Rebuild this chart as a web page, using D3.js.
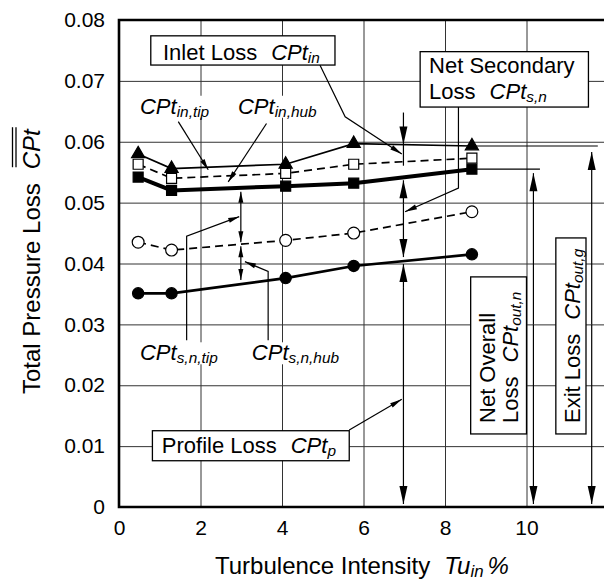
<!DOCTYPE html>
<html>
<head>
<meta charset="utf-8">
<script src="https://cdn.jsdelivr.net/npm/d3@7"></script>
<style>
body { margin: 0; background: #fff; }
svg { display: block; font-family: "Liberation Sans", Arial, sans-serif; }
</style>
</head>
<body>
<script>
// turbulence intensity of each test case, %
var tu = [0.47, 1.29, 4.09, 5.76, 8.66];
// loss series
var cptInTip = [0.0580, 0.0556, 0.0563, 0.0597, 0.0593];   // filled triangles, thin line
var cptInHub = [0.0563, 0.0540, 0.0548, 0.0563, 0.0573];   // open squares, dashed
var cptIn = [0.0542, 0.0520, 0.0527, 0.0532, 0.0555];      // filled squares, thick line
var cptHubSec = [0.0435, 0.0422, 0.0438, 0.0450, 0.0485];  // open circles, dashed
var cptP = [0.0351, 0.0351, 0.0376, 0.0396, 0.0415];       // filled circles
var xTicks = [0, 2, 4, 6, 8, 10];
var yTicks = [0, 0.01, 0.02, 0.03, 0.04, 0.05, 0.06, 0.07, 0.08];

var margin = { top: 20, left: 119 };
var width = 489;
var height = 487;
var tickFont = 21, annFont = 22, titleFont = 24;

var svg = d3.select('body')
    .append('svg')
    .attr('width', 604)
    .attr('height', 580);

var x = d3.scaleLinear().domain([0, 12]).range([0, width]);
var y = d3.scaleLinear().domain([0, 0.08]).range([height, 0]);

var chart = svg.append('g')
    .attr('transform', 'translate(' + margin.left + ',' + margin.top + ')');

// gridlines
chart.append('g')
    .attr('transform', 'translate(0,' + height + ')')
    .call(d3.axisBottom(x).tickValues([2, 4, 6, 8, 10]).tickSize(-height).tickFormat(''))
    .call(g => g.select('.domain').remove())
    .selectAll('line').attr('stroke', '#333').attr('stroke-width', 1);
chart.append('g')
    .call(d3.axisLeft(y).tickValues(yTicks.slice(1, -1)).tickSize(-width).tickFormat(''))
    .call(g => g.select('.domain').remove())
    .selectAll('line').attr('stroke', '#333').attr('stroke-width', 1);

// tick labels
chart.append('g')
    .attr('transform', 'translate(0,' + height + ')')
    .call(d3.axisBottom(x).tickValues(xTicks).tickSize(0).tickPadding(13).tickFormat(d3.format('d')))
    .call(g => g.select('.domain').remove())
    .selectAll('text').attr('font-size', tickFont).attr('font-family', 'Liberation Sans, Arial').attr('fill', '#000');
chart.append('g')
    .call(d3.axisLeft(y).tickValues(yTicks).tickSize(0).tickPadding(14)
        .tickFormat(d => d === 0 ? '0' : d.toFixed(2)))
    .call(g => g.select('.domain').remove())
    .selectAll('text').attr('font-size', tickFont).attr('font-family', 'Liberation Sans, Arial').attr('fill', '#000');

// series
var pts = s => tu.map((t, i) => [t, s[i]]);
var line = d3.line().x(d => x(d[0])).y(d => y(d[1]));
var at = (s, t) => d3.scaleLinear().domain(tu).range(s)(t);

var series = [
    { v: cptP, w: 2.6, dash: null, sym: d3.symbolCircle, size: 100, fill: '#000' },
    { v: cptHubSec, w: 1.7, dash: '8,5', sym: d3.symbolCircle, size: 110, fill: '#fff' },
    { v: cptIn, w: 4, dash: null, sym: d3.symbolSquare, size: 100, fill: '#000' },
    { v: cptInHub, w: 1.7, dash: '8,5', sym: d3.symbolSquare, size: 100, fill: '#fff' },
    { v: cptInTip, w: 1.7, dash: null, sym: d3.symbolTriangle, size: 75, fill: '#000' }
];
series.forEach(function (s) {
    chart.append('path')
        .attr('d', line(pts(s.v)))
        .attr('fill', 'none')
        .attr('stroke', '#000')
        .attr('stroke-width', s.w)
        .attr('stroke-dasharray', s.dash);
});
series.forEach(function (s) {
    chart.selectAll(null)
        .data(pts(s.v))
        .enter()
        .append('path')
        .attr('transform', d => 'translate(' + x(d[0]) + ',' + y(d[1]) + ')')
        .attr('d', d3.symbol().type(s.sym).size(s.size))
        .attr('fill', s.fill)
        .attr('stroke', '#000')
        .attr('stroke-width', 1.2);
});

// annotation helpers
var ann = chart.append('g');
function head(x2, y2, ang, len, wid) {
    var bx = x2 - len * Math.cos(ang), by = y2 - len * Math.sin(ang);
    var px = -Math.sin(ang) * wid / 2, py = Math.cos(ang) * wid / 2;
    ann.append('path')
        .attr('d', 'M' + x2 + ',' + y2 + 'L' + (bx + px) + ',' + (by + py) + 'L' + (bx - px) + ',' + (by - py) + 'Z')
        .attr('fill', '#000');
}
function seg(p) {
    ann.append('path').attr('d', d3.line()(p))
        .attr('fill', 'none').attr('stroke', '#000').attr('stroke-width', 1.2);
}
function arrow(p, len, wid) {
    seg(p);
    var a = p[p.length - 2], b = p[p.length - 1];
    head(b[0], b[1], Math.atan2(b[1] - a[1], b[0] - a[0]), len, wid);
}
var px = d => [x(d[0]), y(d[1])];

// reference lines from the last points
seg([px([tu[4], cptIn[4]]), px([10.33, cptIn[4]])]);
seg([px([tu[4], cptInTip[4]]), px([11.75, cptInTip[4]])]);

// dimension arrows at Tu = 7
var xd = x(6.98);
var yTri = y(at(cptInTip, 6.98)), yHub = y(at(cptInHub, 6.98)), ySq = y(at(cptIn, 6.98)), yPr = y(at(cptP, 6.98));
arrow([[xd, y(0.0648)], [xd, yTri]], 18, 8);
seg([[xd, yTri], [xd, yHub + 4]]);
arrow([[xd, ySq + 26], [xd, ySq + 3]], 18, 8);
arrow([[xd, ySq + 26], [xd, yPr - 4]], 18, 8);
arrow([[xd, yPr + 26], [xd, yPr + 3]], 18, 8);
arrow([[xd, yPr + 26], [xd, y(0) - 3]], 18, 8);

// small dimension arrows at Tu = 3
var x3 = x(2.99);
var yS3 = y(at(cptIn, 2.99)), yH3 = y(at(cptHubSec, 2.99)), yP3 = y(at(cptP, 2.99));
var m1 = (yS3 + yH3) / 2, m2 = (yH3 + yP3) / 2;
arrow([[x3, m1], [x3, yS3 + 4]], 11, 5);
arrow([[x3, m1], [x3, yH3 - 2]], 11, 5);
arrow([[x3, m2], [x3, yH3 + 2]], 11, 5);
arrow([[x3, m2], [x3, yP3 - 4]], 11, 5);

// overall / exit loss arrows
arrow([[x(10.17), y(0.03)], [x(10.17), y(cptIn[4]) + 4]], 18, 8);
arrow([[x(10.17), y(0.03)], [x(10.17), y(0) - 3]], 18, 8);
arrow([[x(11.6), y(0.03)], [x(11.6), y(cptInTip[4]) + 6]], 18, 8);
arrow([[x(11.6), y(0.03)], [x(11.6), y(0) - 3]], 18, 8);

// leader arrows
arrow([[1.455, 0.0633], [2.19, 0.0554]].map(px), 11, 5);
arrow([[3.62, 0.0630], [2.68, 0.0534]].map(px), 11, 5);
arrow([[4.93, 0.0726], [5.55, 0.0641], [6.94, 0.0580]].map(px), 12, 5);
arrow([[8.33, 0.0657], [8.33, 0.0524], [7.02, 0.0485]].map(px), 12, 5);
arrow([[5.65, 0.01265], [6.94, 0.0177]].map(px), 12, 5);
arrow([[1.66, 0.0274], [1.66, 0.0445], [2.95, 0.0477]].map(px), 11, 5);
arrow([[3.66, 0.0274], [3.66, 0.0387], [3.09, 0.0403]].map(px), 11, 5);

// text with italic symbols and subscripts
function rich(parent, tx, ty, parts, size, bg) {
    var t = parent.append('text')
        .attr('x', tx).attr('y', ty)
        .attr('font-size', size)
        .attr('fill', '#000');
    var shift = 0;
    parts.forEach(function (p) {
        var sp = t.append('tspan').text(p[0]);
        if (p[1] !== 'n') sp.attr('font-style', 'italic');
        if (p[2]) sp.attr('dx', p[2]);
        if (p[1] === 's') {
            sp.attr('font-size', size * 0.7).attr('dy', 3 - shift);
            shift = 3;
        } else if (shift) {
            sp.attr('dy', -shift);
            shift = 0;
        }
    });
    if (bg) {
        var b = t.node().getBBox();
        parent.insert('rect', function () { return t.node(); })
            .attr('x', b.x - 2).attr('y', b.y + 2).attr('width', b.width + 4).attr('height', b.height - 4)
            .attr('fill', '#fff');
    }
    return t;
}
function box(d0, d1) {
    var a = px(d0), b = px(d1);
    ann.append('rect')
        .attr('x', a[0]).attr('y', a[1])
        .attr('width', b[0] - a[0]).attr('height', b[1] - a[1])
        .attr('fill', '#fff').attr('stroke', '#000').attr('stroke-width', 1.3);
}

// boxed labels
box([0.78, 0.0774], [5.30, 0.0726]);
rich(ann, x(1.08), y(0.0735), [['Inlet Loss', 'n'], ['CPt', 'i', 14], ['in', 's']], annFont);
box([7.39, 0.0748], [11.52, 0.0657]);
rich(ann, x(7.61), y(0.0713), [['Net Secondary', 'n']], annFont);
rich(ann, x(7.61), y(0.0670), [['Loss', 'n'], ['CPt', 'i', 14], ['s,n', 's']], annFont);
box([0.82, 0.01253], [5.65, 0.0076]);
rich(ann, x(1.05), y(0.0088), [['Profile Loss', 'n'], ['CPt', 'i', 14], ['p', 's']], annFont);

box([8.63, 0.0378], [10.0, 0.0120]);
var r1 = ann.append('g').attr('transform', 'translate(' + x(9.23) + ',' + y(0.0138) + ') rotate(-90)');
rich(r1, 0, 0, [['Net Overall', 'n']], annFont);
var r2 = ann.append('g').attr('transform', 'translate(' + x(9.79) + ',' + y(0.0138) + ') rotate(-90)');
rich(r2, 0, 0, [['Loss', 'n'], ['CPt', 'i', 14], ['out,n', 's']], annFont);
box([10.72, 0.0442], [11.46, 0.0120]);
var r3 = ann.append('g').attr('transform', 'translate(' + x(11.31) + ',' + y(0.0138) + ') rotate(-90)');
rich(r3, 0, 0, [['Exit Loss', 'n'], ['CPt', 'i', 14], ['out,g', 's']], annFont);

// free labels
rich(ann, x(0.515), y(0.0646), [['CPt', 'i'], ['in,tip', 's']], annFont, true);
rich(ann, x(2.92), y(0.0646), [['CPt', 'i'], ['in,hub', 's']], annFont, true);
rich(ann, x(0.515), y(0.0241), [['CPt', 'i'], ['s,n,tip', 's']], annFont, true);
rich(ann, x(3.26), y(0.0241), [['CPt', 'i'], ['s,n,hub', 's']], annFont, true);

// frame
chart.append('path')
    .attr('d', 'M' + x(12) + ',0H0V' + height + 'H' + x(12))
    .attr('fill', 'none')
    .attr('stroke', '#000')
    .attr('stroke-width', 2.6);

// axis titles
rich(svg, 215, 574, [['Turbulence Intensity', 'n'], ['Tu', 'i', 14], ['in', 's'], ['%', 'i', 4]], titleFont);

var yt = svg.append('g').attr('transform', 'translate(40,394) rotate(-90)');
var ytText = rich(yt, 0, 0, [['Total Pressure Loss', 'n']], titleFont);
var cx = ytText.node().getComputedTextLength() + 14;
var cpt = yt.append('text')
    .attr('x', cx).attr('y', 0)
    .attr('font-size', titleFont)
    .attr('font-style', 'italic')
    .text('CPt');
var cw = cpt.node().getComputedTextLength();
[-24, -27.5].forEach(function (oy) {
    yt.append('line')
        .attr('x1', cx + 2).attr('x2', cx + cw + 2)
        .attr('y1', oy).attr('y2', oy)
        .attr('stroke', '#000').attr('stroke-width', 1.3);
});
</script>
</body>
</html>
